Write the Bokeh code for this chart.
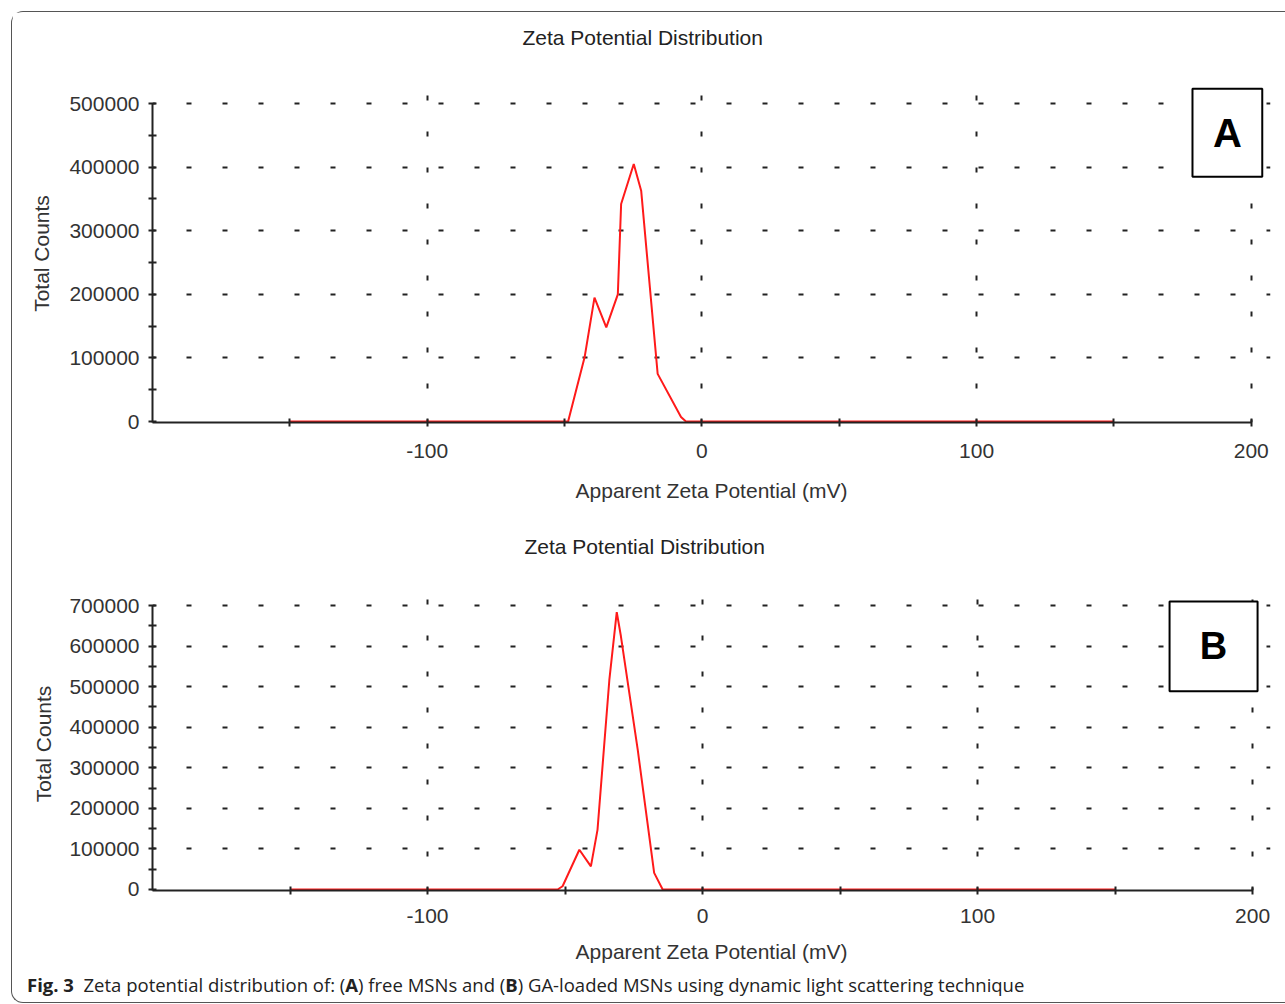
from bokeh.plotting import figure
from bokeh.models import (FixedTicker, BoxAnnotation, Label, Div, Range1d, Title)
from bokeh.layouts import column
from bokeh.embed import file_html
from bokeh.resources import INLINE

# ---------------- data ----------------
zeta_a = [-150, -48.7, -42.7, -39.1, -34.8, -30.6, -29.4, -24.8, -22.1, -16.1, -7.6, -5.8, 150]
counts_a = [0, 0, 101000, 195000, 148000, 200000, 342000, 405000, 363000, 75000, 7000, 0, 0]

zeta_b = [-150, -52.7, -50.9, -44.8, -40.6, -38.2, -33.9, -31.2, -29.7, -23.6, -17.6, -14.5, 150]
counts_b = [0, 0, 8000, 98000, 57000, 147000, 516000, 684000, 625000, 346000, 41000, 0, 0]

x_ticks = [-100, 0, 100, 200]
x_tick_labels = ["-100", "0", "100", "200"]
x_minor = [-150, -50, 50, 150]

y_ticks_a = [0, 100000, 200000, 300000, 400000, 500000]
y_tick_labels_a = ["0", "100000", "200000", "300000", "400000", "500000"]
y_minor_a = [50000, 150000, 250000, 350000, 450000]

y_ticks_b = [0, 100000, 200000, 300000, 400000, 500000, 600000, 700000]
y_tick_labels_b = ["0", "100000", "200000", "300000", "400000", "500000", "600000", "700000"]
y_minor_b = [50000, 150000, 250000, 350000, 450000, 550000, 650000]

title_text = "Zeta Potential Distribution"
x_label = "Apparent Zeta Potential (mV)"
y_label = "Total Counts"
panel_a = "A"
panel_b = "B"

FONT = "Liberation Sans"
INK = "#222222"


def make_panel(zeta, counts, yt, ytl, ym, y_start, y_end, x_end, height,
               mb_left, mb_top, mb_bottom, title_offset, title_gap, box, tag, tag_size,
               tick_standoff, label_standoff, ylabel_standoff):
    p = figure(width=1268, height=height, output_backend="svg", toolbar_location=None,
               x_range=Range1d(-200, x_end), y_range=Range1d(y_start, y_end),
               min_border_left=mb_left, min_border_right=10,
               min_border_top=mb_top, min_border_bottom=mb_bottom)
    p.outline_line_color = None
    p.background_fill_color = "white"
    p.border_fill_color = "white"

    # blank spacer between frame and title (innermost in the "above" panel)
    spacer = Title(text=" ", text_font_size="2px", standoff=title_gap)
    p.add_layout(spacer, "above")
    ttl = Title(text=title_text, align="left", offset=title_offset,
                text_font=FONT, text_font_size="21px", text_font_style="normal",
                text_color=INK, standoff=0)
    p.add_layout(ttl, "above")

    # grids
    p.xgrid.ticker = FixedTicker(ticks=x_ticks)
    p.ygrid.ticker = FixedTicker(ticks=yt[1:])
    for g in (p.xgrid, p.ygrid):
        g.grid_line_color = INK
        g.grid_line_width = 2
        g.grid_line_dash = "5 31"
        g.grid_line_dash_offset = 2

    # x axis
    xa = p.below[0]
    xa.ticker = FixedTicker(ticks=x_ticks, minor_ticks=x_minor)
    xa.major_label_overrides = {t: s for t, s in zip(x_ticks, x_tick_labels)}
    xa.bounds = (-200, 200)
    # y axis
    ya = p.left[0]
    ya.ticker = FixedTicker(ticks=yt, minor_ticks=ym)
    ya.major_label_overrides = {t: s for t, s in zip(yt, ytl)}
    ya.bounds = (y_start, yt[-1])
    xa.axis_label = x_label
    ya.axis_label = y_label
    for ax in (xa, ya):
        ax.axis_line_color = INK
        ax.axis_line_width = 2
        ax.major_tick_line_color = INK
        ax.major_tick_line_width = 2
        ax.minor_tick_line_color = INK
        ax.minor_tick_line_width = 2
        ax.major_tick_in = 4
        ax.major_tick_out = 4
        ax.minor_tick_in = 4
        ax.minor_tick_out = 4
        ax.major_label_text_font = FONT
        ax.major_label_text_font_size = "21px"
        ax.major_label_text_color = "#333333"
        ax.axis_label_text_font = FONT
        ax.axis_label_text_font_size = "21px"
        ax.axis_label_text_font_style = "normal"
        ax.axis_label_text_color = "#333333"
    xa.axis_label_standoff = label_standoff
    ya.axis_label_standoff = ylabel_standoff
    xa.major_label_standoff = tick_standoff
    ya.major_label_standoff = 9

    p.line(zeta, counts, line_color="#ff1a1a", line_width=2)

    left, right, bottom, top = box
    p.add_layout(BoxAnnotation(left=left, right=right, bottom=bottom, top=top,
                               fill_color="white", fill_alpha=1.0,
                               line_color="black", line_width=2, line_alpha=1.0))
    p.add_layout(Label(x=(left + right) / 2, y=(bottom + top) / 2, text=tag,
                       text_align="center", text_baseline="middle",
                       text_font=FONT, text_font_size=tag_size,
                       text_font_style="bold", text_color="black"))
    return p


pA = make_panel(zeta_a, counts_a, y_ticks_a, y_tick_labels_a, y_minor_a,
                -1500, 530000, 207, 500, 137, 72, 90, 370, 32,
                (178.6, 204.0, 385000, 523500), panel_a, "40px", 17, 18, 13)
pB = make_panel(zeta_b, counts_b, y_ticks_b, y_tick_labels_b, y_minor_b,
                -2500, 720000, 206.5, 453, 140, 85, 74, 372, 36,
                (169.8, 201.8, 489000, 710000), panel_b, "38px", 14, 14, 11)

caption = Div(
    text='<b>Fig.&nbsp;3</b>&nbsp;&nbsp;Zeta potential distribution of: (<b>A</b>) free MSNs and '
         '(<b>B</b>) GA-loaded MSNs using dynamic light scattering technique',
    width=1268, height=27,
    styles={"font-family": "Open Sans", "font-size": "18.5px", "color": "#222222",
            "padding-left": "10px", "line-height": "30px"})

layout = column(pA, pB, caption,
                styles={"border-left": "1.5px solid #555555",
                        "border-top": "1.5px solid #555555",
                        "border-bottom": "1.5px solid #555555",
                        "border-top-left-radius": "12px",
                        "border-bottom-left-radius": "12px",
                        "margin-left": "11px", "margin-top": "11px"})

open("out.html", "w").write(file_html(layout, INLINE))
